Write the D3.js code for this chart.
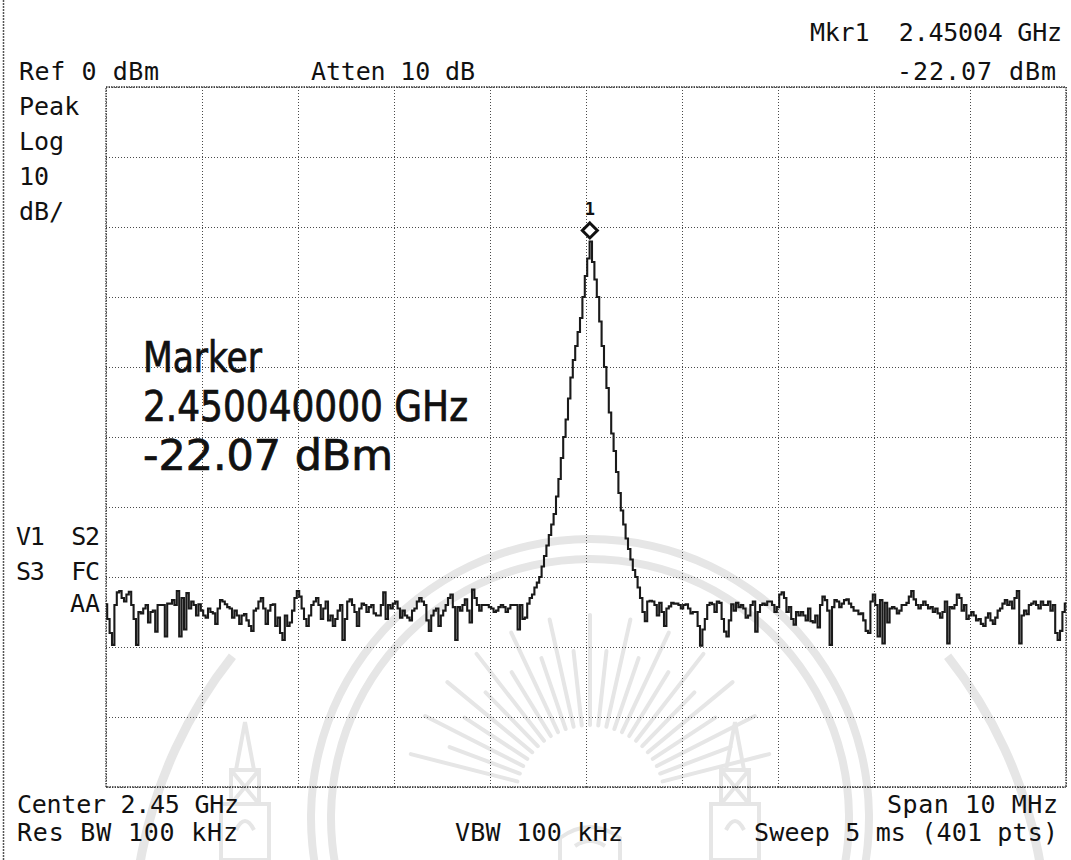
<!DOCTYPE html>
<html>
<head>
<meta charset="utf-8">
<script src="https://cdn.jsdelivr.net/npm/d3@7"></script>
<style>
  html, body { margin: 0; padding: 0; background: #ffffff; }
  svg { display: block; }
  text { white-space: pre; }
</style>
</head>
<body>
<svg id="chart" width="1071" height="860"></svg>
<script>
// ---- Sweep settings ----
const startGHz = 2.445;
const stopGHz = 2.455;
const sweepPoints = 401;
const refLevel = 0;        // dBm at top graticule line
const dbPerDiv = 10;
const divisions = 10;
const attenDb = 10;
const rbwKHz = 100;
const vbwKHz = 100;
const sweepMs = 5;

// ---- Trace levels (dBm), one per sweep point ----
// points 0..180 : noise floor below the carrier
const traceLow = [
  -73.9,-76,-78,-79.7,-74,-72.2,-72,-73,-73.5,-72.5,
  -72.1,-74,-76,-79.7,-75,-75.2,-74.5,-74,-76.5,-75,
  -74.8,-77.8,-74,-74,-74,-78.5,-73.8,-73.8,-73.3,-74,
  -72,-78.5,-73,-77.5,-72.3,-74.5,-73.5,-74,-75.5,-73.9,
  -74.8,-75.5,-75.8,-74.5,-75,-75.2,-76.7,-74.5,-73.3,-73.5,
  -73.9,-74.3,-74.5,-75.8,-74.8,-75.5,-76.7,-75.5,-75.3,-76.2,
  -77,-77.7,-74.8,-74.5,-73.5,-73,-74.5,-76.7,-74.8,-74,
  -73.9,-77,-75.8,-78,-79,-75.5,-77,-76.5,-74.8,-73,
  -72,-72.8,-74.5,-76,-77,-75.5,-74,-73.5,-73,
  -74,-76,-74.5,-73.5,-76.2,-75.5,-77,-76,-74.8,-74,
  -79,-76,-73.5,-73.2,-74,-75,-77,-74.5,-73.8,-74,
  -75,-74.3,-74,-75.2,-75.5,-75.5,-74,-72.2,-76,-74,
  -74.5,-73.8,-73.5,-74.5,-75.8,-74.8,-75.5,-75.8,-76.2,-74.8,
  -74.5,-73.5,-73,-73.5,-74,-76.2,-77.7,-75.5,-74.8,-74.5,
  -77,-75.5,-74.8,-74,-73,-72.5,-74.3,-79,-74.3,-74.8,
  -74,-73.2,-74.8,-76.5,-71.8,-73,-74,-74.8,-74,-74,
  -74,-74.3,-74.5,-75,-74.8,-74.3,-74,-74.3,-75,-74.5,
  -74,-74,-74,-77.5,-74,-76,-75.8,-73.8,-73,-72.5,
  -71.5,-70.8
];
// points 181..224 : carrier response
const tracePeak = [
  -70,-68.5,-67,-65.5,-64,-62.5,-61,-58.5,-56,-53,
  -50,-47.5,-44.5,-41.5,-39,-37,-35,-33,-30,-27,
  -24.5,-22.07,-25,-27.5,-30,-33.5,-37,-40,-43,-46.5,
  -49.5,-52,-55,-58,-60.5,-62.5,-64.5,-66,-67.5,-69,
  -70,-71.5,-73,-75
];
// points 225..400 : noise floor above the carrier
const traceHigh = [
  -76.3,-73.5,-73.4,-73.5,-74,-75.5,-73.7,-75,-77,-74.5,
  -74.2,-73.7,-73.8,-73.8,-74,-74.5,-74,-73.9,-74.5,-75.2,
  -75,-75,-77,-79.8,-77.5,-76,-74,-73.7,-73.9,-75,
  -73.5,-73.7,-76,-77.8,-78.5,-76.2,-73.9,-74.8,-73.7,-74.3,
  -74,-74.5,-75.8,-75.5,-74,-73.5,-77.8,-75,-74,-73.8,
  -74,-73.5,-73.5,-74,-75,-74.3,-72.5,-72.2,-73,-75,
  -74.3,-76,-76.8,-75,-75.5,-75,-75.5,-76.2,-74.5,-76.3,
  -76.5,-75.5,-77.2,-74,-72.8,-73.3,-74.8,-79.7,-74.3,-73.3,
  -73.5,-74.3,-73.8,-73.3,-73.2,
  -73.8,-74.3,-74.8,-74.8,-75.3,-75.2,-76.2,-77.7,-78,-73.5,
  -72.5,-74,-78.5,-73.3,-79.5,-73.7,-76.5,-74.5,-74.3,-74.5,
  -75.2,-74.8,-74,-74,-73.7,-72.8,-72,-73.2,-74,-74.5,
  -74,-73.5,-74,-74.5,-74.3,-75,-74.5,-75.2,-75.8,-75,
  -73.5,-79.5,-74.3,-74.5,-74,-72.5,-73,-74.8,-74,-76,
  -75.5,-75,-75.5,-76.2,-76,-76.7,-77,-75.8,-75.2,-76.2,
  -76.7,-75.8,-74.8,-74.5,-73.8,-73.3,-74,-73.5,-74.5,-73,
  -72,-79.5,-75.5,-74.8,-75.3,-74,-73.8,-73.5,-74,-74.5,
  -73.5,-74,-74,-73.5,-74.8,-74,-78,-79,-77.7,-75,-73.8
];

// ---- Marker 1 ----
const markerFreqGHz = 2.45004;
const markerLevelDbm = -22.07;
const markerName = "1";

// ---- Annotation flags ----
const detectorLines = ["Peak", "Log"];
const statusLines = ["V1  S2", "S3  FC", "AA"];

// ---------------------------------------------------------------
const svg = d3.select("#chart");
const plot = { left: 106, right: 1066, top: 87, bottom: 787 };

const x = d3.scaleLinear().domain([startGHz, stopGHz]).range([plot.left, plot.right]);
const y = d3.scaleLinear()
  .domain([refLevel - dbPerDiv * divisions, refLevel])
  .range([plot.bottom, plot.top]);

const trace = traceLow.concat(tracePeak, traceHigh);
const freqs = d3.range(sweepPoints).map(i => startGHz + i * (stopGHz - startGHz) / (sweepPoints - 1));

// ---- faint seal printed behind the screen ----
const sealGrey = "#e6e6e6";
const seal = svg.append("g").attr("fill", "none").attr("stroke", sealGrey);
const sealC1 = [590, 818];
[279, 259].forEach(r => {
  seal.append("path")
    .attr("transform", `translate(${sealC1})`)
    .attr("d", d3.arc()({ innerRadius: r - 4, outerRadius: r + 4, startAngle: -1.78, endAngle: 1.78 }))
    .attr("fill", sealGrey).attr("stroke", "none");
});
const sealC2 = [590, 940];
[[-1.85, -0.9], [0.9, 1.85]].forEach(([a0, a1]) => {
  seal.append("path")
    .attr("transform", `translate(${sealC2})`)
    .attr("d", d3.arc()({ innerRadius: 452, outerRadius: 461, startAngle: a0, endAngle: a1 }))
    .attr("fill", sealGrey).attr("stroke", "none");
});
// sun rays
d3.range(-12, 13).forEach(k => {
  const a = k * 0.11;
  const r0 = 75, r1 = (k % 2 === 0) ? 185 : 150;
  const cx = 590, cy = 800;
  seal.append("line")
    .attr("x1", cx + r0 * Math.sin(a)).attr("y1", cy - r0 * Math.cos(a))
    .attr("x2", cx + r1 * Math.sin(a)).attr("y2", cy - r1 * Math.cos(a))
    .attr("stroke-width", 4).attr("stroke-linecap", "round");
});
// two towers
[245, 735].forEach(tx => {
  const t = seal.append("g").attr("stroke-width", 4);
  t.append("path").attr("d", `M${tx},722 L${tx - 9},770 L${tx + 9},770 Z`);
  t.append("rect").attr("x", tx - 14).attr("y", 770).attr("width", 28).attr("height", 34);
  t.append("path").attr("d", `M${tx - 14},770 L${tx + 14},804 M${tx + 14},770 L${tx - 14},804`);
  t.append("rect").attr("x", tx - 24).attr("y", 804).attr("width", 48).attr("height", 56);
  t.append("path").attr("d", `M${tx - 9},830 q9,-18 18,0`);
});
seal.append("path").attr("stroke-width", 4)
  .attr("d", "M560,860 L560,838 q30,-22 60,0 L620,860 M575,846 q15,-10 30,0");

// ---- page edge ----
svg.append("line")
  .attr("x1", 3.5).attr("x2", 3.5).attr("y1", 0).attr("y2", 860)
  .attr("stroke", "#555").attr("stroke-width", 1.5).attr("stroke-dasharray", "2,1");

// ---- graticule ----
const xDivs = d3.range(divisions + 1).map(k => startGHz + k * (stopGHz - startGHz) / divisions);
const yDivs = d3.range(divisions + 1).map(k => refLevel - k * dbPerDiv);

svg.append("g")
  .attr("transform", `translate(0,${plot.bottom})`)
  .call(d3.axisBottom(x).tickValues(xDivs).tickSize(-(plot.bottom - plot.top)).tickFormat(""))
  .call(g => g.select(".domain").remove())
  .call(g => g.selectAll("line").attr("stroke", "#4a4a4a").attr("stroke-width", 1).attr("stroke-dasharray", "1,2"));

svg.append("g")
  .attr("transform", `translate(${plot.left},0)`)
  .call(d3.axisLeft(y).tickValues(yDivs).tickSize(-(plot.right - plot.left)).tickFormat(""))
  .call(g => g.select(".domain").remove())
  .call(g => g.selectAll("line").attr("stroke", "#4a4a4a").attr("stroke-width", 1).attr("stroke-dasharray", "1,2"));

svg.append("rect")
  .attr("x", plot.left).attr("y", plot.top)
  .attr("width", plot.right - plot.left).attr("height", plot.bottom - plot.top)
  .attr("fill", "none").attr("stroke", "#333").attr("stroke-width", 1.3).attr("stroke-dasharray", "1.5,1");

// ---- trace (stepped, as the analyser plots it) ----
const line = d3.line()
  .x((d, i) => x(freqs[i]))
  .y(d => y(d))
  .curve(d3.curveStep);

svg.append("path")
  .datum(trace)
  .attr("d", line)
  .attr("fill", "none")
  .attr("stroke", "#1a1a1a")
  .attr("stroke-width", 2.1)
  .attr("stroke-linejoin", "miter");

// ---- marker 1 ----
const mx = x(markerFreqGHz);
const my = y(markerLevelDbm) - 11;
svg.append("path")
  .attr("d", `M${mx},${my - 7.5} L${mx + 7.5},${my} L${mx},${my + 7.5} L${mx - 7.5},${my} Z`)
  .attr("fill", "#fff").attr("stroke", "#111").attr("stroke-width", 3);
svg.append("text")
  .attr("x", mx).attr("y", my - 15)
  .attr("text-anchor", "middle")
  .attr("font-family", "DejaVu Sans Mono, monospace")
  .attr("font-weight", "bold")
  .attr("font-size", 17)
  .attr("fill", "#111")
  .text(markerName);

// ---- screen annotations ----
const mono = "DejaVu Sans Mono, Liberation Mono, monospace";
function label(t, x0, yb, opts = {}) {
  const el = svg.append("text")
    .attr("x", x0).attr("y", yb)
    .attr("font-family", mono)
    .attr("font-size", opts.size || 25)
    .attr("fill", "#111")
    .attr("text-anchor", opts.anchor || "start")
    .text(t);
  if (opts.width) el.attr("textLength", opts.width).attr("lengthAdjust", "spacing");
  return el;
}

label(`Mkr1  ${markerFreqGHz.toFixed(5)} GHz`, 810, 41, { width: 252 });
label(`Ref ${refLevel} dBm`, 19, 80, { width: 140 });
label(`Atten ${attenDb} dB`, 311, 80, { width: 164 });
label(`${markerLevelDbm.toFixed(2)} dBm`, 897, 80, { width: 159 });

label(detectorLines[0], 19, 115);
label(detectorLines[1], 19, 150);
label(String(dbPerDiv), 19, 185);
label("dB/", 19, 220);

label(statusLines[0], 16, 545, { width: 84 });
label(statusLines[1], 16, 580, { width: 84 });
label(statusLines[2], 100, 612, { anchor: "end" });

const centerGHz = (startGHz + stopGHz) / 2;
const spanMHz = Math.round((stopGHz - startGHz) * 1000);
label(`Center ${centerGHz.toFixed(2)} GHz`, 17, 813, { width: 222 });
label(`Res BW ${rbwKHz} kHz`, 17, 841, { width: 221 });
label(`VBW ${vbwKHz} kHz`, 455, 841, { width: 168 });
label(`Span ${spanMHz} MHz`, 887, 813, { width: 171 });
label(`Sweep ${sweepMs} ms (${sweepPoints} pts)`, 754, 841, { width: 304 });

// large marker readout
const big = "DejaVu Sans Condensed, DejaVu Sans, sans-serif";
[
  ["Marker", 372, 119],
  [`${markerFreqGHz.toFixed(9)} GHz`, 421, 325],
  [`${markerLevelDbm.toFixed(2)} dBm`, 470, 250]
].forEach(([t, yb, w]) => {
  svg.append("text")
    .attr("x", 143).attr("y", yb)
    .attr("font-family", big)
    .attr("font-size", 42)
    .attr("fill", "#111")
    .attr("stroke", "#111")
    .attr("stroke-width", 0.7)
    .attr("textLength", w).attr("lengthAdjust", "spacingAndGlyphs")
    .text(t);
});
</script>
</body>
</html>
